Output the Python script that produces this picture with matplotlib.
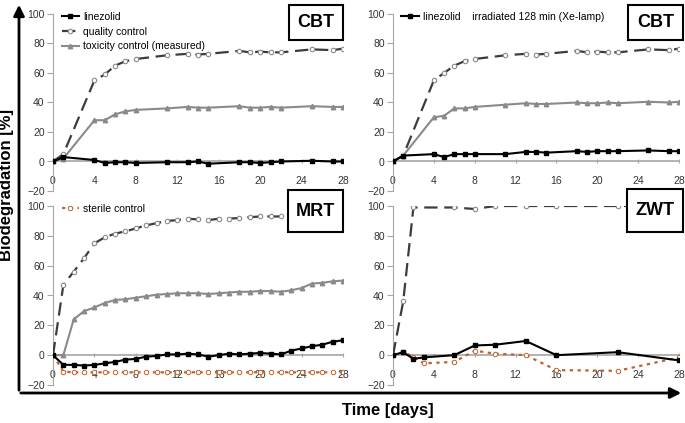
import matplotlib.pyplot as plt
from matplotlib.patches import Rectangle, FancyArrowPatch

plt.rcParams['font.family'] = ['Liberation Sans', 'DejaVu Sans']

# CBT (both top panels)
days_cbt = [0, 1, 4, 5, 6, 7, 8, 11, 13, 14, 15, 18, 19, 20, 21, 22, 25, 27, 28]
lin_cbt = [0, 3, 1, -1, -0.5, -0.5, -1, -0.5, -0.5, 0, -1.5, -0.5, -0.5, -1, -0.5, 0, 0.5, 0, 0]
qc_cbt = [0, 5, 55, 59, 65, 68, 69.5, 72, 73, 72.5, 73, 75, 74, 74.5, 74, 74, 76, 75.5, 76.5]
tox_cbt = [0, 2, 28, 28, 32, 34, 35, 36, 37, 36.5, 36.5, 37.5, 36.5, 36.5, 37, 36.5, 37.5, 37, 37]

lin_irr = [0, 4, 5, 3, 5, 5, 5, 5, 6.5, 6.5, 6, 7, 6.5, 7, 7, 7, 7.5, 7, 7]
qc_irr = [0, 4, 55, 60, 65, 68, 69.5, 72, 73, 72.5, 73, 75, 74, 74.5, 74, 74, 76, 75.5, 76.5]
tox_irr = [0, 4, 30, 31, 36, 36, 37, 38.5, 39.5, 39, 39, 40, 39.5, 39.5, 40, 39.5, 40.5, 40, 40.5]

# MRT
days_mrt = [0, 1, 2, 3, 4, 5, 6, 7, 8, 9, 10, 11, 12, 13, 14,
            15, 16, 17, 18, 19, 20, 21, 22, 23, 24, 25, 26, 27, 28]
qc_mrt = [0, 47, 56, 65, 75, 79, 81.5, 83, 85, 87, 88.5, 90, 90.5, 91.5, 91,
          90.5, 91.5, 91.5, 92, 92.5, 93, 93, 93, 93, 93.5, 94, 94, 94, 94]
tox_mrt = [0, 0, 24, 29.5, 32, 35, 37, 37.5, 38.5, 39.5, 40.5, 41, 41.5, 41.5, 41.5,
           41, 41.5, 42, 42.5, 42.5, 43, 43, 42.5, 43.5, 45, 48, 48.5, 49.5, 50]
lin_mrt = [0, -6.5, -6.5, -7, -6.5, -5.5, -4.5, -3, -2.5, -1, -0.5, 0.5, 0.5, 1, 0.5,
           -1, 0, 1, 0.5, 1, 1.5, 1, 0.5, 3, 4.5, 6, 7, 9, 10]
ster_mrt = [0, -11, -11.5, -11.5, -11.5, -11.5, -11.5, -11.5, -11.5, -11.5, -11.5, -11.5, -11.5, -11.5, -11.5,
            -11.5, -11.5, -11.5, -11.5, -11.5, -11.5, -11.5, -11.5, -11.5, -11.5, -11.5, -11.5, -11.5, -11.5]

# ZWT
days_zwt_qc = [0, 1, 2, 6, 8, 10, 13, 16, 22, 28]
qc_zwt = [0, 36, 99, 99, 98, 100, 100, 100, 100, 100]
days_zwt = [0, 1, 2, 3, 6, 8, 10, 13, 16, 22, 28]
lin_zwt = [0, 2, -2.5, -1.5, 0, 6.5, 7, 9.5, 0, 2, -3.5]
ster_zwt = [0, 2, -1, -5.5, -4.5, 3, 1, 0, -10, -10.5, -1.5]

yticks = [-20, 0, 20, 40, 60, 80, 100]
xticks = [0, 4, 8, 12, 16, 20, 24, 28]

ORANGE = '#c0622a'
GRAY = '#8a8a8a'
DARK = '#3c3c3c'

W, H = 685, 423
fig = plt.figure(figsize=(6.85, 4.23), dpi=100)


def make_ax(x0, x1, ytop, ybot):
    ax = fig.add_axes([x0 / W, 1 - ybot / H, (x1 - x0) / W, (ybot - ytop) / H])
    ax.set_xlim(0, 28)
    ax.set_ylim(-20, 100)
    ax.set_yticks(yticks)
    ax.set_xticks(xticks)
    for s in ['top', 'right']:
        ax.spines[s].set_visible(False)
    ax.spines['left'].set_color('#a6a6a6')
    ax.spines['bottom'].set_color('#a6a6a6')
    ax.spines['bottom'].set_position(('data', 0))
    ax.spines['bottom'].set_linewidth(1.2)
    ax.tick_params(axis='y', length=4, color='#a6a6a6', labelsize=7.5, labelcolor='#333333', pad=2)
    ax.tick_params(axis='x', length=3, direction='inout', color='#a6a6a6', labelsize=7.5,
                   labelcolor='#333333', pad=9)
    ax.patch.set_visible(False)
    return ax


def box(x0, x1, y0, y1, label):
    fig.patches.append(Rectangle((x0 / W, 1 - y1 / H), (x1 - x0) / W, (y1 - y0) / H,
                                 transform=fig.transFigure, facecolor='white',
                                 edgecolor='black', lw=1.5, zorder=10))
    fig.text((x0 + x1) / 2 / W, 1 - (y0 + y1) / 2 / H, label, ha='center', va='center',
             fontsize=13, fontweight='bold', zorder=11)


def plot_lin(ax, x, y, label=None):
    ax.plot(x, y, color='black', lw=1.5, marker='s', ms=3.2, label=label, zorder=5)


def plot_qc(ax, x, y, label=None):
    ax.plot(x, y, color=DARK, lw=1.6, ls=(0, (6, 3)), marker='o', ms=3.2,
            mfc='white', mec=GRAY, mew=0.8, label=label, zorder=4)


def plot_tox(ax, x, y, label=None):
    ax.plot(x, y, color=GRAY, lw=1.5, marker='^', ms=3.2, label=label, zorder=3)


def plot_ster(ax, x, y, label=None):
    ax.plot(x, y, color=ORANGE, lw=1.6, ls=(0, (1.5, 2)), marker='o', ms=3.2,
            mfc='white', mec=ORANGE, mew=0.7, label=label, zorder=3)


leg_kw = dict(loc='upper left', frameon=False, fontsize=7.5, handlelength=1.7,
              handletextpad=0.4, labelspacing=0.45, borderaxespad=0)

# top left
ax1 = make_ax(53, 343, 14, 191)
plot_lin(ax1, days_cbt, lin_cbt, 'linezolid')
plot_qc(ax1, days_cbt, qc_cbt, 'quality control')
plot_tox(ax1, days_cbt, tox_cbt, 'toxicity control (measured)')
ax1.legend(bbox_to_anchor=(0.015, 1.035), **leg_kw)
box(289, 343, 5, 40, 'CBT')

# top right
ax2 = make_ax(393, 679, 14, 191)
plot_qc(ax2, days_cbt, qc_irr)
plot_tox(ax2, days_cbt, tox_irr)
plot_lin(ax2, days_cbt, lin_irr, 'linezolid    irradiated 128 min (Xe-lamp)')
ax2.legend(bbox_to_anchor=(0.015, 1.035), **leg_kw)
box(628, 683, 5, 40, 'CBT')

# bottom left
ax3 = make_ax(53, 343, 206, 385)
plot_qc(ax3, days_mrt, qc_mrt)
plot_tox(ax3, days_mrt, tox_mrt)
plot_lin(ax3, days_mrt, lin_mrt)
plot_ster(ax3, days_mrt, ster_mrt, 'sterile control')
ax3.legend(bbox_to_anchor=(0.015, 1.035), **leg_kw)
box(288, 343, 190, 232, 'MRT')

# bottom right
ax4 = make_ax(393, 679, 206, 385)
plot_qc(ax4, days_zwt_qc, qc_zwt)
plot_lin(ax4, days_zwt, lin_zwt)
plot_ster(ax4, days_zwt, ster_zwt)
box(627, 683, 189, 232, 'ZWT')

# big axis arrows
fig.patches.append(FancyArrowPatch((19 / W, 1 - 393 / H), (19 / W, 1 - 2 / H),
                                   transform=fig.transFigure, arrowstyle='-|>',
                                   mutation_scale=16, lw=2, color='black'))
fig.patches.append(FancyArrowPatch((18 / W, 1 - 393 / H), (684 / W, 1 - 393 / H),
                                   transform=fig.transFigure, arrowstyle='-|>',
                                   mutation_scale=16, lw=2, color='black'))

fig.text(7 / W, 1 - 185 / H, 'Biodegradation [%]', rotation=90, ha='center', va='center',
         fontsize=12, fontweight='bold')
fig.text(388 / W, 1 - 410 / H, 'Time [days]', ha='center', va='center',
         fontsize=12, fontweight='bold')

fig.savefig('out.png', dpi=100)
